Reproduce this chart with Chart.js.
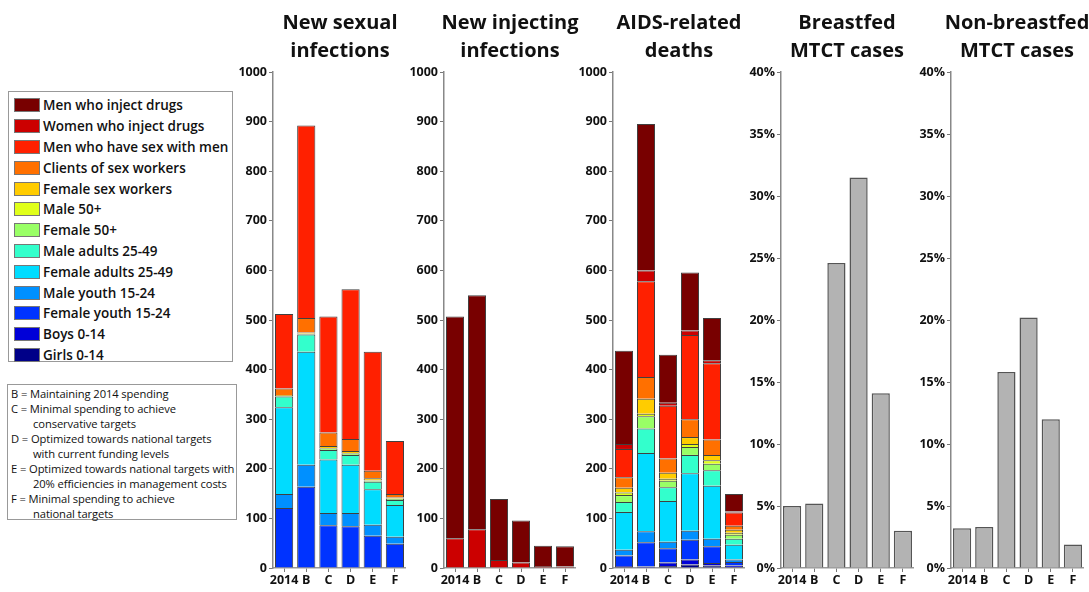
<!DOCTYPE html>
<html>
<head>
<meta charset="utf-8">
<script src="https://cdn.jsdelivr.net/npm/chart.js@4.4.1/dist/chart.umd.min.js"></script>
<style>
  body { margin: 0; background: #fff; font-family: 'Open Sans', sans-serif; }
  #page { position: relative; width: 1089px; height: 592px; overflow: hidden; }
  canvas { position: absolute; top: 0; }
  .title { position: absolute; top: 8px; width: 170px; text-align: center; font-weight: 700; font-size: 20px; line-height: 28px; color: #111; }
  #legend { position: absolute; left: 8px; top: 91px; width: 225px; height: 271px; border: 1px solid #999; box-sizing: border-box; padding-top: 3px; }
  .legend-item { height: 20.8px; display: flex; align-items: center; }
  .legend-color { width: 26px; height: 14px; margin-left: 5px; margin-right: 3px; border: 1px solid #777; box-sizing: border-box; }
  .legend-label { font-size: 13.5px; font-weight: 600; color: #111; white-space: nowrap; letter-spacing: 0px; }
  #notes { position: absolute; left: 7px; top: 384px; width: 230px; height: 136px; border: 1px solid #999; box-sizing: border-box; padding: 1px 0 0 3px; font-size: 11.2px; line-height: 15px; color: #111; white-space: nowrap; letter-spacing: -0.1px; }
  #notes .ind { padding-left: 22px; }
</style>
</head>
<body>
<div id="page">
  <div id="legend"></div>
  <div id="notes">
    <div>B = Maintaining 2014 spending</div>
    <div>C = Minimal spending to achieve</div>
    <div class="ind">conservative targets</div>
    <div>D = Optimized towards national targets</div>
    <div class="ind">with current funding levels</div>
    <div>E = Optimized towards national targets with</div>
    <div class="ind">20% efficiencies in management costs</div>
    <div>F = Minimal spending to achieve</div>
    <div class="ind">national targets</div>
  </div>
  <canvas id="sexual" width="173" height="592" style="left:233px"></canvas>
  <canvas id="injecting" width="172" height="592" style="left:404px"></canvas>
  <canvas id="deaths" width="172" height="592" style="left:573px"></canvas>
  <canvas id="breastfed" width="173" height="592" style="left:741px"></canvas>
  <canvas id="nonBreastfed" width="173" height="592" style="left:911px"></canvas>
  <div class="title" style="left:255px">New sexual<br>infections</div>
  <div class="title" style="left:425px">New injecting<br>infections</div>
  <div class="title" style="left:594px">AIDS-related<br>deaths</div>
  <div class="title" style="left:762px">Breastfed<br>MTCT cases</div>
  <div class="title" style="left:932px">Non-breastfed<br>MTCT cases</div>
</div>
<script>
const scenarios = ['2014', 'B', 'C', 'D', 'E', 'F'];

// bottom of the stack first
const groups = [
    'Girls 0-14', 'Boys 0-14', 'Female youth 15-24', 'Male youth 15-24',
    'Female adults 25-49', 'Male adults 25-49', 'Female 50+', 'Male 50+',
    'Female sex workers', 'Clients of sex workers', 'Men who have sex with men',
    'Women who inject drugs', 'Men who inject drugs'
];
const groupColors = [
    '#000088', '#0000d8', '#0033ff', '#0090ff', '#00dcff', '#33ffcc', '#99ff66',
    '#e0ff1a', '#ffcc00', '#ff7000', '#ff2000', '#cc0000', '#780000'
];

// rows follow the order of groups, columns follow scenarios
const sexualInfections = [
    [0, 0, 0, 0, 0, 0],
    [0, 0, 0, 0, 0, 0],
    [121, 164, 86, 84, 65, 49],
    [28, 44, 25, 27, 22, 14],
    [175, 228, 108, 97, 72, 64],
    [22, 35, 19, 20, 15, 10],
    [1, 1, 3, 3, 2, 2],
    [0, 1, 1, 1, 1, 1],
    [2, 2, 4, 4, 4, 2],
    [13, 29, 27, 24, 15, 7],
    [150, 388, 234, 302, 240, 107],
    [0, 0, 0, 0, 0, 0],
    [0, 0, 0, 0, 0, 0]
];
const injectingInfections = [
    [0, 0, 0, 0, 0, 0],
    [0, 0, 0, 0, 0, 0],
    [0, 0, 0, 0, 0, 0],
    [0, 0, 0, 0, 0, 0],
    [0, 0, 0, 0, 0, 0],
    [0, 0, 0, 0, 0, 0],
    [0, 0, 0, 0, 0, 0],
    [0, 0, 0, 0, 0, 0],
    [0, 0, 0, 0, 0, 0],
    [0, 0, 0, 0, 0, 0],
    [0, 0, 0, 0, 0, 0],
    [60, 78, 16, 11, 4, 3],
    [447, 472, 123, 85, 41, 41]
];
const aidsDeaths = [
    [2, 1, 4, 7, 5, 2],
    [2, 2, 7, 10, 5, 3],
    [21, 49, 29, 40, 34, 7],
    [12, 22, 13, 18, 15, 5],
    [76, 158, 82, 116, 107, 30],
    [20, 49, 28, 37, 31, 12],
    [14, 25, 13, 16, 13, 8],
    [5, 5, 4, 6, 7, 4],
    [10, 30, 12, 14, 11, 6],
    [21, 44, 29, 36, 31, 8],
    [57, 193, 106, 170, 154, 27],
    [10, 22, 6, 9, 6, 2],
    [188, 295, 97, 117, 85, 35]
];

const breastfedMTCT = [5.0, 5.2, 24.6, 31.5, 14.1, 3.0];
const nonBreastfedMTCT = [3.2, 3.3, 15.8, 20.2, 12.0, 1.9];

const tickFont = { family: 'Open Sans', weight: 'bold', size: 12.5 };

function makeOptions(max, step, percent) {
    return {
        responsive: false,
        animation: false,
        devicePixelRatio: 1,
        layout: { padding: { top: 72, left: 0, right: 0, bottom: 0 } },
        plugins: { legend: { display: false }, tooltip: { enabled: false } },
        scales: {
            x: {
                stacked: true,
                grid: { drawOnChartArea: false, offset: false, tickLength: 4, color: '#777' },
                border: { color: '#999', width: 1.5 },
                ticks: {
                    color: '#111',
                    font: { family: 'Open Sans', weight: 'bold', size: 12.5 },
                    padding: 1,
                    maxRotation: 0,
                    autoSkip: false
                },
                afterFit: function (scale) { scale.height = 24; }
            },
            y: {
                stacked: true,
                min: 0,
                max: max,
                grid: { drawOnChartArea: false, tickLength: 4, color: '#777' },
                border: { color: '#888', width: 1.5 },
                ticks: {
                    stepSize: step,
                    color: '#111',
                    font: tickFont,
                    padding: 2,
                    callback: function (v) { return percent ? v + '%' : v; }
                },
                afterFit: function (scale) { scale.width = 40; }
            }
        }
    };
}

function stackedChart(id, rows) {
    const datasets = [];
    rows.forEach((row, i) => {
        if (row.some(v => v > 0)) {
            datasets.push({
                label: groups[i],
                data: row,
                backgroundColor: groupColors[i],
                borderColor: 'rgba(30,30,30,0.85)',
                borderWidth: 1,
                barPercentage: 0.82,
                categoryPercentage: 1.0
            });
        }
    });
    return new Chart(document.getElementById(id), {
        type: 'bar',
        data: { labels: scenarios, datasets: datasets },
        options: makeOptions(1000, 100, false)
    });
}

function mtctChart(id, values) {
    return new Chart(document.getElementById(id), {
        type: 'bar',
        data: {
            labels: scenarios,
            datasets: [{
                data: values,
                backgroundColor: '#b3b3b3',
                borderColor: '#555',
                borderWidth: 1.5,
                barPercentage: 0.82,
                categoryPercentage: 1.0
            }]
        },
        options: makeOptions(40, 5, true)
    });
}

stackedChart('sexual', sexualInfections);
stackedChart('injecting', injectingInfections);
stackedChart('deaths', aidsDeaths);
mtctChart('breastfed', breastfedMTCT);
mtctChart('nonBreastfed', nonBreastfedMTCT);

// legend box, top of the stack first
const legendContainer = document.getElementById('legend');
legendContainer.innerHTML = groups.map((label, i) => `
    <div class="legend-item">
        <span class="legend-color" style="background-color:${groupColors[i]};"></span>
        <span class="legend-label">${label}</span>
    </div>
`).reverse().join('');
</script>
</body>
</html>
